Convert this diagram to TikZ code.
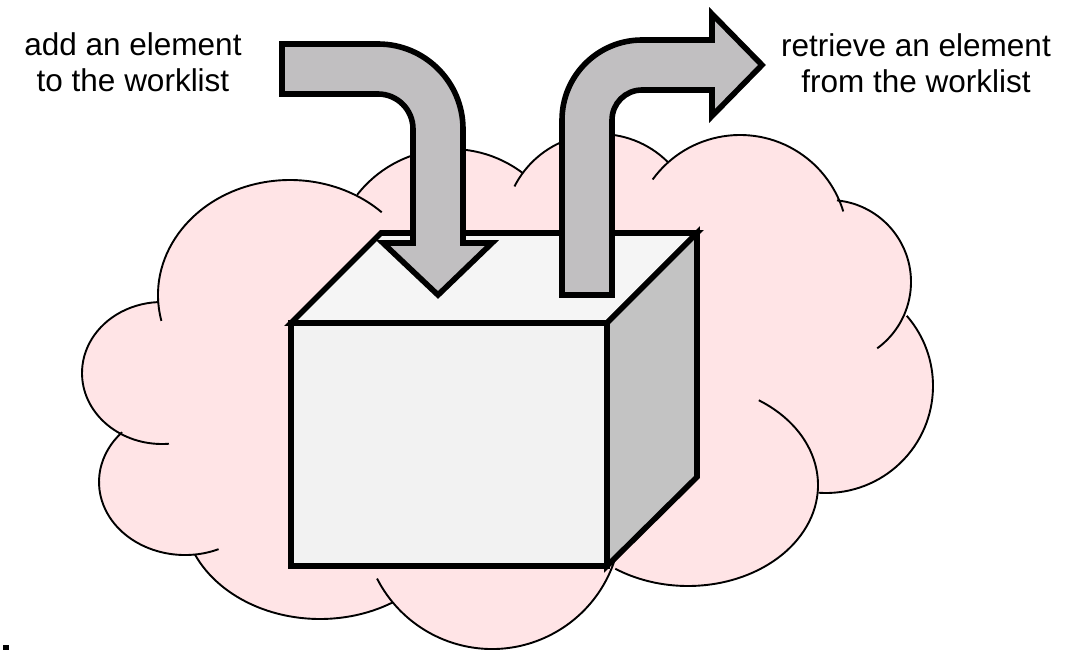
\documentclass[tikz,border=0pt]{standalone}
\usepackage{fontspec}
\setmainfont{Liberation Sans}
\definecolor{cloudpink}{RGB}{255,228,230}
\definecolor{arrowgray}{RGB}{193,191,193}
\definecolor{frontgray}{RGB}{242,242,242}
\definecolor{topgray}{RGB}{245,245,245}
\definecolor{sidegray}{RGB}{195,195,195}
% lobe helpers: centre x, centre y, x radius, y radius (, start angle, end angle)
\newcommand\filllobe[4]{\fill[cloudpink] (#1,#2) ellipse [x radius=#3, y radius=#4];}
\newcommand\drawlobe[6]{\draw[cloudline] (#1,#2) ++(#5:#3 and #4)
  arc[start angle=#5, end angle=#6, x radius=#3, y radius=#4];}
\begin{document}
\begin{tikzpicture}[x=1pt,y=-1pt,
  cloudline/.style={draw=black,line width=1.9pt,line cap=butt},
  boxface/.style={draw=black,line width=5.6pt,line join=miter},
  bigarrow/.style={draw=black,fill=arrowgray,line width=5.6pt,line join=miter},
  lbltext/.style={font=\fontsize{31.5}{36}\selectfont,align=center,inner sep=0pt}]
\useasboundingbox (0,0) rectangle (1073,650);

% ---------- cloud fill ----------
\fill[cloudpink] (158,305) -- (358,196) -- (523,173) -- (668,162) -- (837,200) -- (905,317)
  -- (818,493) -- (613,570) -- (390,600) -- (192,555) -- (125,435) -- cycle;
\filllobe{290}{295}{132}{115}
\filllobe{451}{268}{119}{119}
\filllobe{600}{230}{96}{96}
\filllobe{740}{243}{108}{108}
\filllobe{829}{282}{82}{82}
\filllobe{826}{386}{107}{107}
\filllobe{688}{485}{130}{101}
\filllobe{492}{520}{129}{129}
\filllobe{320}{510}{137}{109}
\filllobe{185}{482}{86}{73}
\filllobe{162}{373}{80}{71}

% ---------- cloud outline ----------
\drawlobe{290}{295}{132}{115}{167}{314}
\drawlobe{451}{268}{119}{119}{218}{307}
\drawlobe{600}{230}{96}{96}{207}{315}
\drawlobe{740}{243}{108}{108}{216}{343}
\drawlobe{829}{282}{82}{82}{275.6}{414}
\drawlobe{826}{386}{107}{107}{-41}{94}
\drawlobe{688}{485}{130}{101}{-57}{124}
\drawlobe{492}{520}{129}{129}{12}{153}
\drawlobe{320}{510}{137}{109}{58}{156}
\drawlobe{185}{482}{86}{73}{67}{223}
\drawlobe{162}{373}{80}{71}{85}{267}

% ---------- box ----------
\coordinate (ftl) at (291,323);
\coordinate (ftr) at (607,323);
\coordinate (fbr) at (607,566);
\coordinate (fbl) at (291,566);
\coordinate (btl) at (381,233);
\coordinate (btr) at (697,233);
\coordinate (bbr) at (697,477);
\filldraw[boxface,fill=topgray] (ftl) -- (btl) -- (btr) -- (ftr) -- cycle;
\filldraw[boxface,fill=sidegray] (ftr) -- (btr) -- (bbr) -- (fbr) -- cycle;
\filldraw[boxface,fill=frontgray] (ftl) -- (ftr) -- (fbr) -- (fbl) -- cycle;

% ---------- arrows ----------
\filldraw[bigarrow] (282,44) -- (378,44) arc[start angle=-90,end angle=0,radius=85]
  -- (463,243) -- (492,243) -- (438,295) -- (383,243) -- (413,243) -- (413,129)
  arc[start angle=0,end angle=-90,radius=35] -- (282,94) -- cycle;
\filldraw[bigarrow] (562,295) -- (562,120) arc[start angle=180,end angle=270,radius=80]
  -- (712,40) -- (712,14) -- (762,65) -- (712,116) -- (712,90) -- (642,90)
  arc[start angle=270,end angle=180,radius=30] -- (612,295) -- cycle;

% ---------- labels ----------
\node[lbltext] (addlbl) at (133,62.6) {add an element\\to the worklist};
\node[lbltext] (getlbl) at (916,63) {retrieve an element\\from the worklist};

% ---------- small mark ----------
\fill[black] (3,645) rectangle (9,650);
\end{tikzpicture}
\end{document}
